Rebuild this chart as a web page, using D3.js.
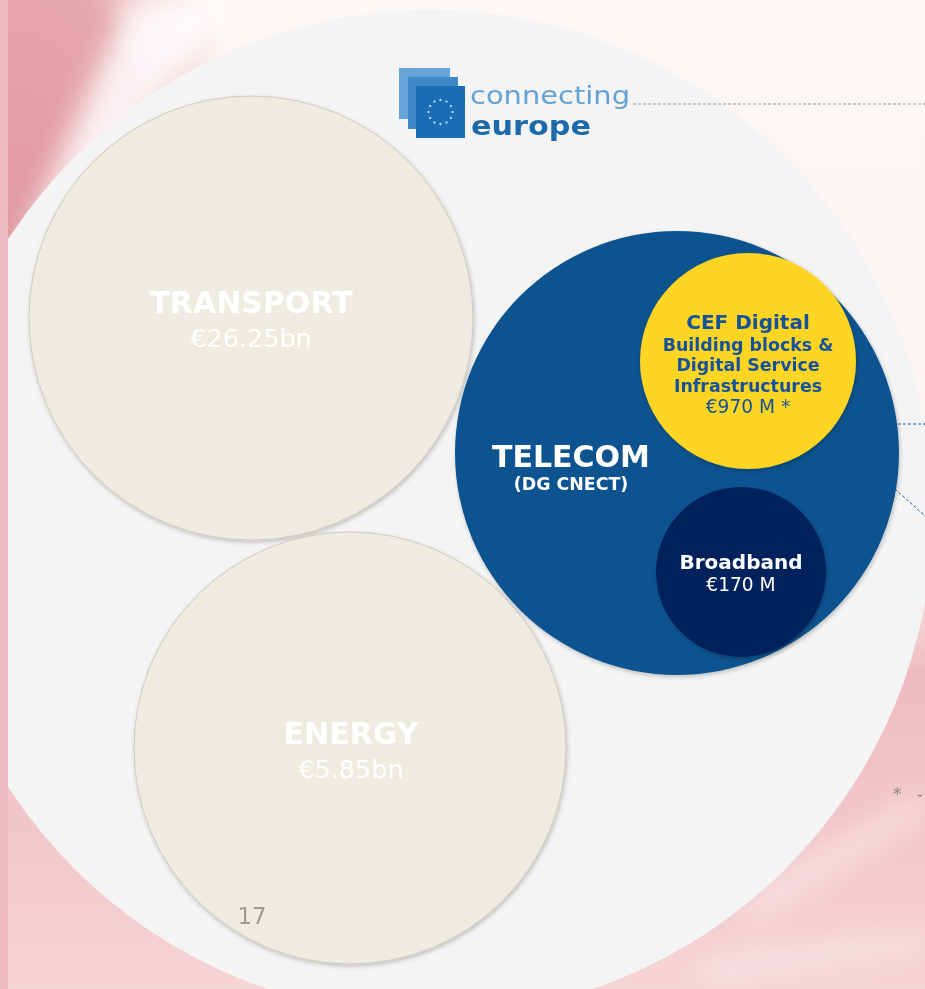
<!DOCTYPE html>
<html lang="en">
<head>
<meta charset="UTF-8">
<title>CEF budget bubbles</title>
<style>
html, body { margin: 0; padding: 0; background: #fbf6f3; }
svg { display: block; }
text { font-family: "DejaVu Sans", Verdana, sans-serif; }
</style>
</head>
<body>
<div id="chart"></div>
<script src="https://cdnjs.cloudflare.com/ajax/libs/d3/7.8.5/d3.min.js"></script>
<script>

// sectors of the Connecting Europe Facility and their budgets
const sectors = ["TRANSPORT", "ENERGY", "TELECOM"];
const sectorBn = [26.25, 5.85, null];
const sectorSub = ["", "", "(DG CNECT)"];

// telecom split (million euro)
const telecomParts = ["CEF Digital", "Broadband"];
const telecomSub = [["Building blocks &", "Digital Service", "Infrastructures"], []];
const telecomM = [970, 170];
const telecomNote = [" *", ""];

const pageNumber = "17";
const footNote = "* -";

const W = 925, H = 989;

const svg = d3.select("#chart").append("svg")
    .attr("width", W)
    .attr("height", H);

const defs = svg.append("defs");

// soft shadow used on the bubbles
const shadow = defs.append("filter").attr("id", "shadow")
    .attr("x", "-10%").attr("y", "-10%").attr("width", "120%").attr("height", "120%");
shadow.append("feDropShadow")
    .attr("dx", 1).attr("dy", 2).attr("stdDeviation", 2)
    .attr("flood-color", "#000").attr("flood-opacity", 0.22);

const blur = defs.append("filter").attr("id", "blur")
    .attr("x", "-50%").attr("y", "-50%").attr("width", "200%").attr("height", "200%");
blur.append("feGaussianBlur").attr("stdDeviation", 14);

function radial(id, stops) {
  let g = defs.append("radialGradient").attr("id", id);
  stops.forEach(s => g.append("stop").attr("offset", s[0]).attr("stop-color", s[1]).attr("stop-opacity", s[2]));
}
radial("pinkA", [[0, "#e097a0", 1], [0.6, "#e4a3a9", 0.95], [1, "#f0c8cb", 0]]);

let lin = defs.append("linearGradient").attr("id", "pageFade")
    .attr("x1", 0).attr("y1", 0).attr("x2", 0).attr("y2", 1);
[[0, "#fcf8f5"], [0.55, "#fbf3f1"], [0.68, "#eebcc0"], [0.85, "#f2c8cc"], [1, "#f5d4d6"]]
  .forEach(s => lin.append("stop").attr("offset", s[0]).attr("stop-color", s[1]));

// background photo stand-in
const bg = svg.append("g");
bg.append("rect").attr("width", W).attr("height", H).attr("fill", "url(#pageFade)");
bg.append("ellipse").attr("cx", 20).attr("cy", 250).attr("rx", 230).attr("ry", 470).attr("fill", "url(#pinkA)");
bg.append("rect").attr("x", 0).attr("y", 0).attr("width", 8).attr("height", H).attr("fill", "#eebcc1");
// light streaks
const streaks = bg.append("g").attr("filter", "url(#blur)");
streaks.append("path").attr("d", "M130,0 L230,0 L60,250 L20,250 Z").attr("fill", "#fff").attr("opacity", 0.85);
streaks.append("path").attr("d", "M760,890 L925,790 L925,815 L740,930 Z").attr("fill", "#fff").attr("opacity", 0.45);
streaks.append("path").attr("d", "M700,960 L925,930 L925,950 L700,985 Z").attr("fill", "#fff").attr("opacity", 0.4);

// big pale disc behind everything, clipped on the left edge
defs.append("clipPath").attr("id", "leftClip")
  .append("rect").attr("x", 8).attr("y", 0).attr("width", W).attr("height", H);
svg.append("circle")
    .attr("clip-path", "url(#leftClip)")
    .attr("cx", 430).attr("cy", 513).attr("r", 503)
    .attr("fill", "#f4f4f4");

// layout scales: category -> centre and radius
const keys = sectors.concat(telecomParts);
const cx = d3.scaleOrdinal().domain(keys).range([251, 350, 677, 748, 741]);
const cy = d3.scaleOrdinal().domain(keys).range([318, 748, 453, 361, 572]);
const rad = d3.scaleOrdinal().domain(keys).range([222, 216, 222, 108, 85]);
const fill = d3.scaleOrdinal().domain(keys)
    .range(["#eeebe0", "#eeebe0", "#10538f", "#fdd520", "#00215b"]);
const ink = d3.scaleOrdinal().domain(keys)
    .range(["#ffffff", "#ffffff", "#ffffff", "#16529a", "#ffffff"]);

const fmtBn = d => "€" + d3.format(".2f")(d) + "bn";
const fmtM = d => "€" + d3.format("d")(d) + " M";

// logo
const logo = svg.append("g");
logo.append("rect").attr("x", 399).attr("y", 68).attr("width", 51).attr("height", 51).attr("fill", "#64a4d9");
logo.append("rect").attr("x", 408).attr("y", 77).attr("width", 50).attr("height", 52).attr("fill", "#3f89c9");
logo.append("rect").attr("x", 416).attr("y", 86).attr("width", 49).attr("height", 52).attr("fill", "#1a6db6");
d3.range(12).forEach(i => {
  let a = i / 12 * 2 * Math.PI;
  logo.append("circle")
      .attr("cx", 440.5 + 12 * Math.cos(a)).attr("cy", 112 + 12 * Math.sin(a))
      .attr("r", 1.2).attr("fill", "#a6d4f5");
});
logo.append("text").attr("x", 470).attr("y", 104)
    .attr("font-size", 25).attr("fill", "#64a2d4")
    .attr("textLength", 160).attr("lengthAdjust", "spacingAndGlyphs")
    .text("connecting");
logo.append("text").attr("x", 471).attr("y", 135)
    .attr("font-weight", "bold").attr("font-size", 26).attr("fill", "#1d6aab")
    .attr("textLength", 120).attr("lengthAdjust", "spacingAndGlyphs")
    .text("europe");

// dashed leader lines
svg.append("line").attr("x1", 633).attr("y1", 104).attr("x2", W).attr("y2", 104)
    .attr("stroke", "#9a9a9a").attr("stroke-width", 1).attr("stroke-dasharray", "3,2");
svg.append("line").attr("x1", 898).attr("y1", 424).attr("x2", W).attr("y2", 424)
    .attr("stroke", "#1d5fa5").attr("stroke-width", 1).attr("stroke-dasharray", "3,2");
svg.append("line").attr("x1", 895).attr("y1", 489).attr("x2", W).attr("y2", 516)
    .attr("stroke", "#1d5fa5").attr("stroke-width", 1).attr("stroke-dasharray", "3,2");

// sector bubbles
const sec = svg.append("g").selectAll("g")
  .data(sectors.map((s, i) => ({ name: s, bn: sectorBn[i], sub: sectorSub[i] })))
  .join("g");

sec.append("circle")
    .attr("cx", d => cx(d.name)).attr("cy", d => cy(d.name)).attr("r", d => rad(d.name))
    .attr("fill", d => fill(d.name))
    .attr("stroke", d => d.name === "TELECOM" ? "none" : "#cfcabc").attr("stroke-width", 1)
    .attr("filter", "url(#shadow)");

// telecom sub bubbles
const parts = svg.append("g").selectAll("g")
  .data(telecomParts.map((s, i) => ({ name: s, m: telecomM[i], sub: telecomSub[i], note: telecomNote[i] })))
  .join("g");

parts.append("circle")
    .attr("cx", d => cx(d.name)).attr("cy", d => cy(d.name)).attr("r", d => rad(d.name))
    .attr("fill", d => fill(d.name))
    .attr("filter", "url(#shadow)");

// labels
const labelX = { TRANSPORT: 251, ENERGY: 351, TELECOM: 571 };
const labelY = { TRANSPORT: 313, ENERGY: 744, TELECOM: 467 };

sec.append("text")
    .attr("x", d => labelX[d.name]).attr("y", d => labelY[d.name])
    .attr("text-anchor", "middle")
    .attr("font-weight", "bold").attr("font-size", 30)
    .attr("fill", d => ink(d.name))
    .text(d => d.name);

sec.filter(d => d.bn != null).append("text")
    .attr("x", d => labelX[d.name]).attr("y", d => labelY[d.name] + 34)
    .attr("text-anchor", "middle")
    .attr("font-size", 25.5)
    .attr("fill", d => ink(d.name))
    .text(d => fmtBn(d.bn));

sec.filter(d => d.sub).append("text")
    .attr("x", d => labelX[d.name]).attr("y", d => labelY[d.name] + 23)
    .attr("text-anchor", "middle")
    .attr("font-weight", "bold").attr("font-size", 17.4)
    .attr("fill", d => ink(d.name))
    .text(d => d.sub);

const partTop = { "CEF Digital": 329, "Broadband": 569 };

parts.append("text")
    .attr("x", d => cx(d.name)).attr("y", d => partTop[d.name])
    .attr("text-anchor", "middle")
    .attr("font-weight", "bold").attr("font-size", 20)
    .attr("fill", d => ink(d.name))
    .text(d => d.name);

parts.each(function (d) {
  let g = d3.select(this);
  d.sub.forEach((line, j) => {
    g.append("text")
        .attr("x", cx(d.name)).attr("y", partTop[d.name] + 21.5 + j * 20.5)
        .attr("text-anchor", "middle")
        .attr("font-weight", "bold").attr("font-size", 17.4)
        .attr("fill", ink(d.name))
        .text(line);
  });
  g.append("text")
      .attr("x", cx(d.name)).attr("y", partTop[d.name] + 22 + d.sub.length * 20.5)
      .attr("text-anchor", "middle")
      .attr("font-size", 18.6)
      .attr("fill", ink(d.name))
      .text(fmtM(d.m) + d.note);
});

// page number and footnote marker
svg.append("text").attr("x", 252).attr("y", 924)
    .attr("text-anchor", "middle")
    .attr("font-size", 23).attr("fill", "#9a9a9a")
    .attr("textLength", 29).attr("lengthAdjust", "spacingAndGlyphs")
    .text(pageNumber);
svg.append("text").attr("x", 893).attr("y", 800)
    .attr("font-size", 17).attr("fill", "#8a8a8a")
    .attr("textLength", 30)
    .text(footNote);

</script>
</body>
</html>
